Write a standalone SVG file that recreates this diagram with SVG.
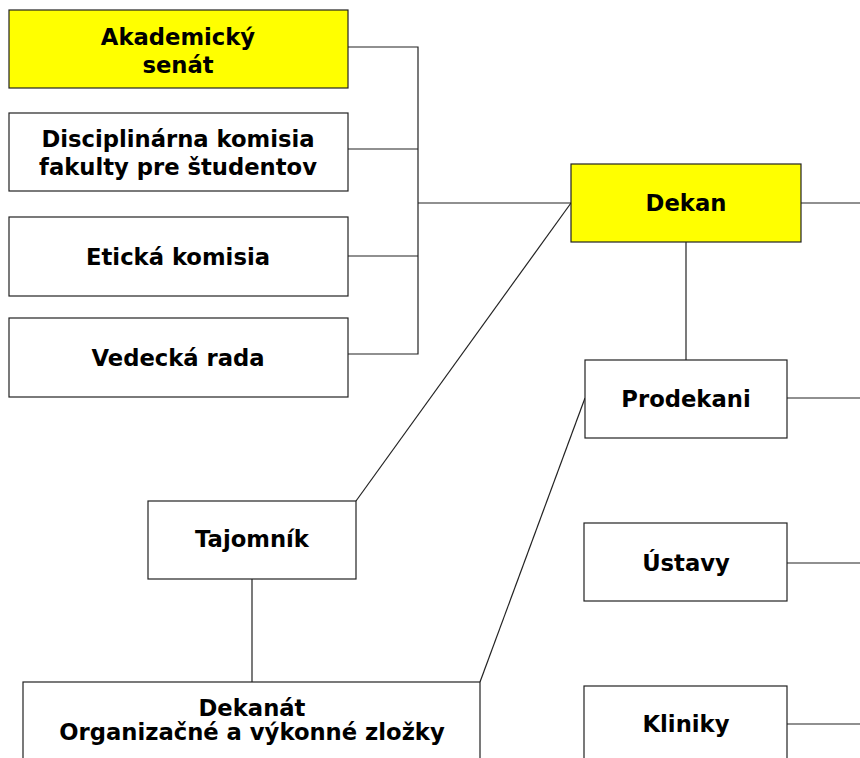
<svg xmlns="http://www.w3.org/2000/svg" width="860" height="758" viewBox="0 0 860 758">
<style>
.box{fill:#fff;stroke:#222;stroke-width:1.2}
.yel{fill:#ffff00}
.t{font-family:"DejaVu Sans",Verdana,sans-serif;font-weight:bold;font-size:22.7px;fill:#000;text-anchor:middle}
.c{fill:none;stroke:#222;stroke-width:1.2}
</style>
<rect width="860" height="758" fill="#fff"/>
<g id="connectors">
<polyline class="c" points="348,47 418,47 418,354 348,354"/>
<line class="c" x1="348" y1="149" x2="418" y2="149"/>
<line class="c" x1="348" y1="256" x2="418" y2="256"/>
<line class="c" x1="418" y1="203" x2="571" y2="203"/>
<line class="c" x1="801" y1="203" x2="860" y2="203"/>
<line class="c" x1="686" y1="242" x2="686" y2="360"/>
<line class="c" x1="787" y1="398" x2="860" y2="398"/>
<line class="c" x1="787" y1="563" x2="860" y2="563"/>
<line class="c" x1="787" y1="724" x2="860" y2="724"/>
<line class="c" x1="356" y1="501" x2="571" y2="203"/>
<line class="c" x1="252" y1="579" x2="252" y2="682"/>
<line class="c" x1="480" y1="682" x2="585" y2="398"/>
</g>
<g id="akademicky-senat">
<rect class="box yel" x="9" y="10" width="339" height="78"/>
<text class="t" x="178" y="45">Akademický</text>
<text class="t" x="178" y="73">senát</text>
</g>
<g id="disciplinarna-komisia">
<rect class="box" x="9" y="113" width="339" height="78"/>
<text class="t" x="178" y="147">Disciplinárna komisia</text>
<text class="t" x="178" y="175">fakulty pre študentov</text>
</g>
<g id="eticka-komisia">
<rect class="box" x="9" y="217" width="339" height="79"/>
<text class="t" x="178" y="265">Etická komisia</text>
</g>
<g id="vedecka-rada">
<rect class="box" x="9" y="318" width="339" height="79"/>
<text class="t" x="178" y="366">Vedecká rada</text>
</g>
<g id="dekan">
<rect class="box yel" x="571" y="164" width="230" height="78"/>
<text class="t" x="686" y="211">Dekan</text>
</g>
<g id="prodekani">
<rect class="box" x="585" y="360" width="202" height="78"/>
<text class="t" x="686" y="407">Prodekani</text>
</g>
<g id="ustavy">
<rect class="box" x="584" y="523" width="203" height="78"/>
<text class="t" x="686" y="571">Ústavy</text>
</g>
<g id="kliniky">
<rect class="box" x="584" y="686" width="203" height="78"/>
<text class="t" x="686" y="732">Kliniky</text>
</g>
<g id="tajomnik">
<rect class="box" x="148" y="501" width="208" height="78"/>
<text class="t" x="252" y="547">Tajomník</text>
</g>
<g id="dekanat">
<rect class="box" x="23" y="682" width="457" height="90"/>
<text class="t" x="252" y="716">Dekanát</text>
<text class="t" x="252" y="740">Organizačné a výkonné zložky</text>
</g>
</svg>
